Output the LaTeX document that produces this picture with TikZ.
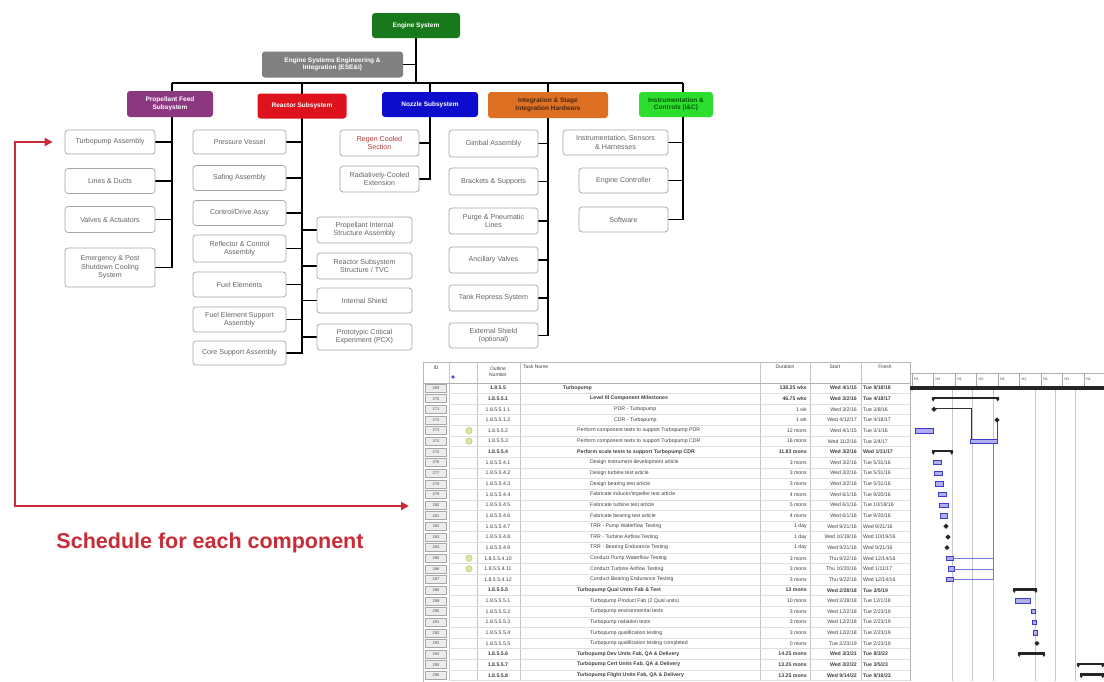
\documentclass[tikz,border=0pt]{standalone}
\usepackage{fontspec}
\setmainfont{Liberation Sans}
\usetikzlibrary{arrows.meta,backgrounds}
\definecolor{esgreen}{RGB}{24,120,28}
\definecolor{esgray}{RGB}{128,128,128}
\definecolor{pfpurple}{RGB}{140,56,128}
\definecolor{rxred}{RGB}{222,18,28}
\definecolor{nzblue}{RGB}{12,12,205}
\definecolor{igorange}{RGB}{222,112,36}
\definecolor{icgreen}{RGB}{46,222,46}
\definecolor{schedred}{RGB}{200,45,55}
\definecolor{leaftext}{RGB}{100,100,100}
\definecolor{leafedge}{RGB}{165,165,165}
\definecolor{barblue}{RGB}{175,175,240}
\definecolor{baredge}{RGB}{60,60,200}
\newcommand\fsz[2]{\fontsize{#1}{#2}\selectfont}
\newcommand\taskrow[9]{%
  \pgfmathsetmacro\yc{388+(#1-1)*10.64}%
  \draw[gray!25] (449,\yc+5.32) -- (910,\yc+5.32);
  \node[idcell] at (436,\yc) {#2};
  \node[cell,font={\fsz{5.2}{5.2}#9}] at (498,\yc) {#3};
  \node[cell,anchor=west,font={\fsz{5.2}{5.2}#9}] at (#4,\yc) {#5};
  \node[cell,anchor=east,font={\fsz{5.2}{5.2}#9}] at (807,\yc) {#6};
  \node[cell,anchor=east,font={\fsz{5.2}{5.2}#9}] at (857,\yc) {#7};
  \node[cell,anchor=west,font={\fsz{5.2}{5.2}#9}] at (863,\yc) {#8};
}
\newcommand\sumbar[3]{%
  \pgfmathsetmacro\yc{388+(#1-1)*10.64}%
  \fill[black!85] (#2,\yc-2) rectangle (#3,\yc+0.6);
  \fill[black!85] (#2-0.5,\yc) -- (#2+3,\yc) -- (#2+1.2,\yc+3) -- cycle;
  \fill[black!85] (#3+0.5,\yc) -- (#3-3,\yc) -- (#3-1.2,\yc+3) -- cycle;
}
\newcommand\taskbar[3]{%
  \pgfmathsetmacro\yc{388+(#1-1)*10.64}%
  \filldraw[fill=barblue,draw=baredge,line width=0.5pt] (#2,\yc-2.2) rectangle (#3,\yc+2.2);
}
\newcommand\mstone[2]{%
  \pgfmathsetmacro\yc{388+(#1-1)*10.64}%
  \fill[black!85] (#2,\yc-2.6) -- (#2+2.6,\yc) -- (#2,\yc+2.6) -- (#2-2.6,\yc) -- cycle;
}
\begin{document}
\begin{tikzpicture}[x=1pt,y=-1pt,
  sub/.style={rounded corners=3pt,text=white,font={\bfseries\fsz{6.5}{7.6}},align=center,inner sep=1pt},
  leaf/.style={rounded corners=3pt,draw=leafedge,line width=0.7pt,fill=white,text=leaftext,font={\fsz{7.1}{8.3}},align=center,inner sep=1pt},
  link/.style={line width=1.8pt,black},
  cell/.style={inner sep=0pt,text=black!75},
  idcell/.style={draw=gray!70,fill=gray!14,minimum width=21pt,minimum height=8pt,inner sep=0pt,font={\fsz{4}{4}},text=black!70},
  redarrow/.style={line width=2.6pt,schedred,{Triangle[length=8pt,width=8pt]}-{Triangle[length=8pt,width=8pt]}}]
\useasboundingbox (0,0) rectangle (1104,681);

% ---------- org chart ----------
\node[sub,fill=esgreen,minimum width=88pt,minimum height=25pt] (es) at (416,25.5) {Engine System};
\node[sub,fill=esgray,minimum width=141pt,minimum height=26pt] (esei) at (332.5,64.5) {Engine Systems Engineering \&\\Integration (ESE\&I)};
\node[sub,fill=pfpurple,minimum width=86pt,minimum height=26pt] (pf) at (170,104) {Propellant Feed\\Subsystem};
\node[sub,fill=rxred,minimum width=89pt,minimum height=25pt] (rx) at (302,106) {Reactor Subsystem};
\node[sub,fill=nzblue,minimum width=96pt,minimum height=25pt] (nz) at (430,104.5) {Nozzle Subsystem};
\node[sub,fill=igorange,text=black!65!igorange,minimum width=120pt,minimum height=26pt] (ig) at (548,105) {Integration \& Stage\\Integration Hardware};
\node[sub,fill=icgreen,text=green!35!black,minimum width=74pt,minimum height=25pt] (ic) at (676,104.5) {Instrumentation \&\\Controls (I\&C)};

% propellant feed
\node[leaf,minimum width=90pt,minimum height=24pt] (pf1) at (110,142) {Turbopump Assembly};
\node[leaf,minimum width=90pt,minimum height=25pt] (pf2) at (110,181) {Lines \& Ducts};
\node[leaf,minimum width=90pt,minimum height=26pt] (pf3) at (110,219.5) {Valves \& Actuators};
\node[leaf,minimum width=90pt,minimum height=39pt] (pf4) at (110,267.5) {Emergency \& Post\\Shutdown Cooling\\System};
% reactor
\node[leaf,minimum width=93pt,minimum height=24pt] (rl1) at (239.5,142) {Pressure Vessel};
\node[leaf,minimum width=93pt,minimum height=25pt] (rl2) at (239.5,178) {Safing Assembly};
\node[leaf,minimum width=93pt,minimum height=25pt] (rl3) at (239.5,213) {Control/Drive Assy};
\node[leaf,minimum width=93pt,minimum height=27pt] (rl4) at (239.5,248.5) {Reflector \& Control\\Assembly};
\node[leaf,minimum width=93pt,minimum height=25pt] (rl5) at (239.5,284.5) {Fuel Elements};
\node[leaf,minimum width=93pt,minimum height=25pt] (rl6) at (239.5,319.5) {Fuel Element Support\\Assembly};
\node[leaf,minimum width=93pt,minimum height=24pt] (rl7) at (239.5,353) {Core Support Assembly};
\node[leaf,minimum width=95pt,minimum height=26pt] (rr1) at (364.5,230) {Propellant Internal\\Structure Assembly};
\node[leaf,minimum width=95pt,minimum height=26pt] (rr2) at (364.5,266) {Reactor Subsystem\\Structure / TVC};
\node[leaf,minimum width=95pt,minimum height=25pt] (rr3) at (364.5,300.5) {Internal Shield};
\node[leaf,minimum width=95pt,minimum height=26pt] (rr4) at (364.5,337) {Prototypic Critical\\Experiment (PCX)};
% nozzle
\node[leaf,minimum width=79pt,minimum height=26pt,text=red!45!leaftext] (nz1) at (379.5,143) {Regen Cooled\\Section};
\node[leaf,minimum width=79pt,minimum height=26pt] (nz2) at (379.5,179) {Radiatively-Cooled\\Extension};
% integration
\node[leaf,minimum width=89pt,minimum height=27pt] (ig1) at (493.5,143.5) {Gimbal Assembly};
\node[leaf,minimum width=89pt,minimum height=27pt] (ig2) at (493.5,181.5) {Brackets \& Supports};
\node[leaf,minimum width=89pt,minimum height=26pt] (ig3) at (493.5,221) {Purge \& Pneumatic\\Lines};
\node[leaf,minimum width=89pt,minimum height=26pt] (ig4) at (493.5,260) {Ancillary Valves};
\node[leaf,minimum width=89pt,minimum height=26pt] (ig5) at (493.5,298) {Tank Repress System};
\node[leaf,minimum width=89pt,minimum height=25pt] (ig6) at (493.5,335.5) {External Shield\\(optional)};
% I&C
\node[leaf,minimum width=105pt,minimum height=25pt] (ic1) at (615.5,142.5) {Instrumentation, Sensors\\\& Harnesses};
\node[leaf,minimum width=89pt,minimum height=25pt] (ic2) at (623.5,180.5) {Engine Controller};
\node[leaf,minimum width=89pt,minimum height=25pt] (ic3) at (623.5,219.5) {Software};

\coordinate (busL) at (172,83);
\coordinate (busR) at (683,83);
\coordinate (spine) at (416,83);
\coordinate (rxb) at (302,83);
\coordinate (nzb) at (430,83);
\coordinate (igb) at (548,83);

\begin{scope}[on background layer]
  \fill[white] (0,0) rectangle (1104,681);
  \draw[link] (es.south) -- (spine);
  \draw[link] (esei.east) -- (esei.east -| spine);
  \draw[link] (busL) -- (busR);
  \draw[link] (busL) |- (pf4.east);
  \foreach \n in {pf1,pf2,pf3} \draw[link] (\n.east) -- (\n.east -| busL);
  \draw[link] (rxb) |- (rl7.east);
  \foreach \n in {rl1,rl2,rl3,rl4,rl5,rl6} \draw[link] (\n.east) -- (\n.east -| rxb);
  \foreach \n in {rr1,rr2,rr3,rr4} \draw[link] (\n.west) -- (\n.west -| rxb);
  \draw[link] (nzb) |- (nz2.east);
  \draw[link] (nz1.east) -- (nz1.east -| nzb);
  \draw[link] (igb) |- (ig6.east);
  \foreach \n in {ig1,ig2,ig3,ig4,ig5} \draw[link] (\n.east) -- (\n.east -| igb);
  \draw[link] (busR) |- (ic3.east);
  \foreach \n in {ic1,ic2} \draw[link] (\n.east) -- (\n.east -| busR);
\end{scope}

% ---------- schedule table ----------
\coordinate (tbl) at (423,506);
\coordinate (rtop) at (15,142);
\coordinate (rbot) at (15,506);
\draw[redarrow,shorten <=12pt,shorten >=14pt,line join=miter] (pf1.west) -- (rtop) -- (rbot) -- (tbl);
\node[font={\bfseries\fsz{21.5}{24}},text=schedred] (sched) at (210,543) {Schedule for each component};

\draw[gray!55,line width=0.6pt] (423,362) rectangle (1110,683);
\foreach \x in {449,477,520,760,810,861} \draw[gray!45] (\x,362) -- (\x,681);
\draw[gray!60] (423,383) -- (910,383);
\node[cell,font={\fsz{5}{5}}] at (436,368) {ID};
\fill[blue!70] (453,377) circle (1.8);
\node[cell,font={\fsz{5}{6}},align=center] at (498,372) {Outline\\Number};
\node[cell,anchor=west,font={\fsz{5}{5}}] at (523,367) {Task Name};
\node[cell,font={\fsz{5}{5}}] at (785,367) {Duration};
\node[cell,font={\fsz{5}{5}}] at (835,367) {Start};
\node[cell,font={\fsz{5}{5}}] at (885,367) {Finish};

\taskrow{1}{269}{1.8.5.5}{563}{Turbopump}{138.25 wks}{Wed 4/1/15}{Tue 9/18/18}{\bfseries}
\taskrow{2}{270}{1.8.5.5.1}{590}{Level III Component Milestones}{46.75 wks}{Wed 3/2/16}{Tue 4/18/17}{\bfseries}
\taskrow{3}{271}{1.8.5.5.1.1}{614}{PDR - Turbopump}{1 wk}{Wed 3/2/16}{Tue 3/8/16}{}
\taskrow{4}{272}{1.8.5.5.1.2}{614}{CDR - Turbopump}{1 wk}{Wed 4/12/17}{Tue 4/18/17}{}
\taskrow{5}{273}{1.8.5.5.2}{577}{Perform component tests to support Turbopump PDR}{12 mons}{Wed 4/1/15}{Tue 3/1/16}{}
\taskrow{6}{274}{1.8.5.5.3}{577}{Perform component tests to support Turbopump CDR}{16 mons}{Wed 11/2/16}{Tue 3/4/17}{}
\taskrow{7}{275}{1.8.5.5.4}{577}{Perform scale tests to support Turbopump CDR}{11.83 mons}{Wed 3/2/16}{Wed 1/31/17}{\bfseries}
\taskrow{8}{276}{1.8.5.5.4.1}{590}{Design instrument development article}{3 mons}{Wed 3/2/16}{Tue 5/31/16}{}
\taskrow{9}{277}{1.8.5.5.4.2}{590}{Design turbine test article}{3 mons}{Wed 3/2/16}{Tue 5/31/16}{}
\taskrow{10}{278}{1.8.5.5.4.3}{590}{Design bearing test article}{3 mons}{Wed 3/2/16}{Tue 5/31/16}{}
\taskrow{11}{279}{1.8.5.5.4.4}{590}{Fabricate inducer/impeller test article}{4 mons}{Wed 6/1/16}{Tue 9/20/16}{}
\taskrow{12}{280}{1.8.5.5.4.5}{590}{Fabricate turbine test article}{5 mons}{Wed 6/1/16}{Tue 10/18/16}{}
\taskrow{13}{281}{1.8.5.5.4.6}{590}{Fabricate bearing test article}{4 mons}{Wed 6/1/16}{Tue 9/20/16}{}
\taskrow{14}{282}{1.8.5.5.4.7}{590}{TRR - Pump Waterflow Testing}{1 day}{Wed 9/21/16}{Wed 9/21/16}{}
\taskrow{15}{283}{1.8.5.5.4.8}{590}{TRR - Turbine Airflow Testing}{1 day}{Wed 10/19/16}{Wed 10/19/16}{}
\taskrow{16}{284}{1.8.5.5.4.9}{590}{TRR - Bearing Endurance Testing}{1 day}{Wed 9/21/16}{Wed 9/21/16}{}
\taskrow{17}{285}{1.8.5.5.4.10}{590}{Conduct Pump Waterflow Testing}{3 mons}{Thu 9/22/16}{Wed 12/14/16}{}
\taskrow{18}{286}{1.8.5.5.4.11}{590}{Conduct Turbine Airflow Testing}{3 mons}{Thu 10/20/16}{Wed 1/11/17}{}
\taskrow{19}{287}{1.8.5.5.4.12}{590}{Conduct Bearing Endurance Testing}{3 mons}{Thu 9/22/16}{Wed 12/14/16}{}
\taskrow{20}{288}{1.8.5.5.5}{577}{Turbopump Qual Units Fab \& Test}{13 mons}{Wed 2/28/18}{Tue 3/5/19}{\bfseries}
\taskrow{21}{289}{1.8.5.5.5.1}{590}{Turbopump Product Fab (2 Qual units)}{10 mons}{Wed 2/28/18}{Tue 12/1/18}{}
\taskrow{22}{290}{1.8.5.5.5.2}{590}{Turbopump environmental tests}{3 mons}{Wed 12/2/18}{Tue 2/23/19}{}
\taskrow{23}{291}{1.8.5.5.5.3}{590}{Turbopump radiation tests}{3 mons}{Wed 12/2/18}{Tue 2/23/19}{}
\taskrow{24}{292}{1.8.5.5.5.4}{590}{Turbopump qualification testing}{3 mons}{Wed 12/2/18}{Tue 2/23/19}{}
\taskrow{25}{293}{1.8.5.5.5.5}{590}{Turbopump qualification testing completed}{0 mons}{Tue 2/23/19}{Tue 2/23/19}{}
\taskrow{26}{294}{1.8.5.5.6}{577}{Turbopump Dev Units Fab, QA \& Delivery}{14.25 mons}{Wed 3/3/21}{Tue 8/3/22}{\bfseries}
\taskrow{27}{295}{1.8.5.5.7}{577}{Turbopump Cert Units Fab, QA \& Delivery}{13.25 mons}{Wed 3/2/22}{Tue 3/5/23}{\bfseries}
\taskrow{28}{296}{1.8.5.5.8}{577}{Turbopump Flight Units Fab, QA \& Delivery}{13.25 mons}{Wed 9/14/22}{Tue 9/18/23}{\bfseries}

% indicator icons
\foreach \r in {5,6,17,18} {
  \pgfmathsetmacro\yc{388+(\r-1)*10.64}
  \filldraw[fill=yellow!45!green!35,draw=olive!55] (469,\yc) circle (3.2);
}

% ---------- Gantt area ----------
\fill[white] (910,362.3) rectangle (1104,681);
\draw[gray!60] (910,362) -- (910,681);
\draw[gray!60] (910,373) -- (1104,373);
\foreach \k [count=\c] in {0,...,8} {
  \pgfmathsetmacro\xx{912+\k*21.5}
  \draw[gray!70] (\xx,373) -- (\xx,386);
  \ifodd\c \node[cell,anchor=west,font={\fsz{3.6}{3.6}}] at (\xx+2,379.5) {H1};
  \else \node[cell,anchor=west,font={\fsz{3.6}{3.6}}] at (\xx+2,379.5) {H2}; \fi
}
\foreach \x in {952,972,993,1035,1055,1075} \draw[gray!45] (\x,390) -- (\x,681);
\fill[black!85] (910,386) rectangle (1104,389.5);
\fill[black!85] (910,386) -- (914,386) -- (912,391) -- cycle;

\sumbar{2}{932}{999}
\mstone{3}{934}
\mstone{4}{997}
\draw[black!80,line width=0.5pt] (936,408.6) -- (971,408.6) -- (971,439);
\draw[baredge,line width=0.5pt] (997,422) -- (997,439);
\taskbar{5}{915}{933}
\taskbar{6}{970}{997}
\sumbar{7}{932}{953}
\taskbar{8}{933}{941}
\taskbar{9}{934}{942}
\taskbar{10}{935}{943}
\taskbar{11}{938}{946}
\taskbar{12}{939}{948}
\taskbar{13}{940}{947}
\mstone{14}{946}
\mstone{15}{948}
\mstone{16}{947}
\taskbar{17}{946}{953}
\taskbar{18}{948}{954}
\taskbar{19}{946}{953}
\foreach \r in {17,18,19} {
  \pgfmathsetmacro\yc{388+(\r-1)*10.64}
  \draw[baredge!70,line width=0.5pt] (953,\yc) -- (993,\yc);
}
\draw[baredge!70,line width=0.5pt] (993,444) -- (993,579.5);
\sumbar{20}{1013}{1037}
\taskbar{21}{1015}{1030}
\taskbar{22}{1031}{1035}
\taskbar{23}{1032}{1036}
\taskbar{24}{1033}{1037}
\mstone{25}{1037}
\sumbar{26}{1018}{1045}
\sumbar{27}{1077}{1104}
\sumbar{28}{1080}{1104}
\end{tikzpicture}
\end{document}
